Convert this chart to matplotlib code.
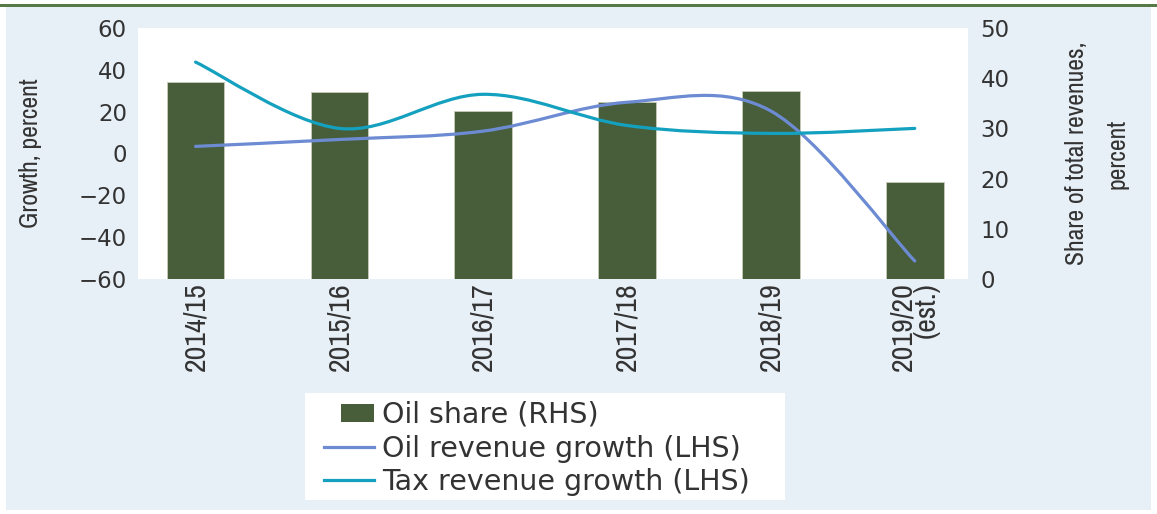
import matplotlib
matplotlib.use("Agg")
import matplotlib.pyplot as plt
from matplotlib import font_manager as fm
from matplotlib.patches import Rectangle, PathPatch
from matplotlib.path import Path
from matplotlib.lines import Line2D
from matplotlib.legend_handler import HandlerPatch
import numpy as np

# ---------------- data ----------------
categories = ['2014/15', '2015/16', '2016/17', '2017/18', '2018/19', '2019/20\n(est.)']
oil_share = [39.2, 37.2, 33.4, 35.3, 37.4, 19.4]          # RHS, percent of total revenues
oil_growth = [3.4, 6.7, 10.7, 24.5, 20.3, -51.4]           # LHS, percent
tax_growth = [43.7, 12.0, 28.3, 13.4, 9.6, 12.0]           # LHS, percent
left_ticks = [-60, -40, -20, 0, 20, 40, 60]
right_ticks = [0, 10, 20, 30, 40, 50]
legend_labels = ['Oil share (RHS)', 'Oil revenue growth (LHS)', 'Tax revenue growth (LHS)']

# ---------------- styles ----------------
BAR_C = '#485E3A'
OIL_C = '#6C8BD3'
TAX_C = '#14A0BF'
BG_C = '#E8F0F7'
TXT_C = '#333333'
names = {f.name for f in fm.fontManager.ttflist}
if 'Archivo Narrow' in names:
    NARROW, NSCALE = ['Archivo Narrow', 'Liberation Sans'], 1.0
else:
    NARROW, NSCALE = ['Liberation Sans'], 0.82

W, H = 1157, 514
fig = plt.figure(figsize=(W / 100, H / 100), dpi=100)
fig.patch.set_facecolor('white')

def fx(px):
    return px / W

def fy(py):
    return 1 - py / H

fig.patches.append(Rectangle((fx(6), fy(510)), fx(1151) - fx(6), fy(7) - fy(510),
                             transform=fig.transFigure, facecolor=BG_C, edgecolor='none', zorder=-10))
fig.patches.append(Rectangle((0, fy(6.5)), 1, fy(3.5) - fy(6.5),
                             transform=fig.transFigure, facecolor='#557A45', edgecolor='none', zorder=-9))
fig.patches.append(Rectangle((fx(305), fy(500)), fx(785) - fx(305), fy(393) - fy(500),
                             transform=fig.transFigure, facecolor='white', edgecolor='none', zorder=-8))

left, right, top, bottom = 138, 968, 28, 279
ax2 = fig.add_axes([fx(left), fy(bottom), fx(right) - fx(left), fy(top) - fy(bottom)])
ax = ax2.twinx()
ax.yaxis.tick_left()
ax.yaxis.set_label_position('left')
ax2.yaxis.tick_right()
ax2.yaxis.set_label_position('right')
ax.patch.set_visible(False)
ax2.set_facecolor('white')

x = np.arange(len(categories))
ax2.bar(x, oil_share, width=0.4, color=BAR_C, edgecolor='#C9CDB8', linewidth=0.6, zorder=2)
ax2.set_ylim(0, 50)
ax2.set_yticks(right_ticks)
ax.set_ylim(-60, 60)
ax.set_yticks(left_ticks)
for a in (ax, ax2):
    a.set_xlim(-0.4, 5.37)
    for s in a.spines.values():
        s.set_visible(False)

def smooth_path(xs, ys):
    pts = list(zip(xs, ys))
    n = len(pts)
    verts = [pts[0]]
    codes = [Path.MOVETO]
    for i in range(n - 1):
        p0 = np.array(pts[max(i - 1, 0)], float)
        p1 = np.array(pts[i], float)
        p2 = np.array(pts[i + 1], float)
        p3 = np.array(pts[min(i + 2, n - 1)], float)
        c1 = p1 + (p2 - p0) / 6.0
        c2 = p2 - (p3 - p1) / 6.0
        verts += [tuple(c1), tuple(c2), tuple(p2)]
        codes += [Path.CURVE4] * 3
    return Path(verts, codes)

for ys, c in ((oil_growth, OIL_C), (tax_growth, TAX_C)):
    ax.add_patch(PathPatch(smooth_path(x, ys), facecolor='none', edgecolor=c,
                           linewidth=2.3, capstyle='round', zorder=3))

ax.tick_params(axis='y', length=0, pad=8, labelsize=16.5, labelcolor=TXT_C)
ax2.tick_params(axis='y', length=0, pad=9, labelsize=16.5, labelcolor=TXT_C)
ax.set_yticklabels([f'{v}'.replace('-', '\u2212') for v in left_ticks])
ax2.set_yticklabels([str(v) for v in right_ticks])
ax2.set_xticks(x)
ax2.set_xticklabels(categories, rotation=90, ha='center', va='top', multialignment='right',
                    family=NARROW, fontsize=21.5 * NSCALE, color=TXT_C, linespacing=0.85)
ax2.tick_params(axis='x', length=0, pad=2)

ax.set_ylabel('Growth, percent', family=NARROW, fontsize=18.5 * NSCALE, color=TXT_C)
ax.yaxis.label.set(ha='center', va='center')
ax.yaxis.set_label_coords((31 - left) / (right - left), 0.5)
ax2.set_ylabel('Share of total revenues,\npercent', family=NARROW, fontsize=18.5 * NSCALE,
               color=TXT_C, rotation=90, linespacing=1.9)
ax2.yaxis.label.set(ha='center', va='center')
ax2.yaxis.set_label_coords((1097 - left) / (right - left), 0.5)

def bar_handle(legend, orig_handle, xdescent, ydescent, width, height, fontsize):
    w = 23.8
    h = 12.5
    return Rectangle((-xdescent + width - w, -ydescent + (height - h) / 2), w, h)

handles = [Rectangle((0, 0), 1, 1, facecolor=BAR_C, edgecolor='none'),
           Line2D([], [], color=OIL_C, linewidth=2.3),
           Line2D([], [], color=TAX_C, linewidth=2.3)]
fig.legend(handles, legend_labels, loc='upper left', bbox_to_anchor=(fx(324), fy(401)),
           frameon=False, fontsize=20.5, handlelength=1.75, handletextpad=0.3,
           labelspacing=0.2, borderpad=0, borderaxespad=0, labelcolor=TXT_C,
           handler_map={Rectangle: HandlerPatch(patch_func=bar_handle)})

fig.savefig('out.png', dpi=100, facecolor=fig.get_facecolor())
